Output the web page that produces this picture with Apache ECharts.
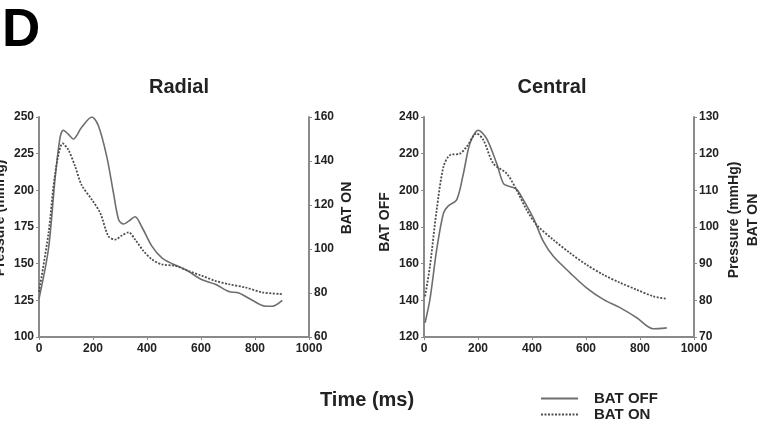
<!DOCTYPE html>
<html><head><meta charset="utf-8">
<script src="https://cdn.jsdelivr.net/npm/echarts@6/dist/echarts.min.js"></script>
<style>html,body{margin:0;padding:0;background:#fff}#c{width:769px;height:425px}</style>
</head><body><div id="c"></div>
<script>
// Radial panel
const radialOffTime = [0, 35, 60, 78, 90, 110, 127, 158, 196, 220, 251, 276, 295, 313, 332, 356, 381, 418, 455, 493, 542, 604, 653, 703, 740, 790, 839, 864, 901];
const radialOffValue = [126, 160, 209, 236, 241, 238, 235, 243, 250, 244, 223, 198, 180, 177, 179, 182, 175, 162, 154, 150, 146, 139, 136, 131, 130, 125, 121, 121, 125];
const radialOnTime = [0, 35, 60, 88, 109, 134, 158, 196, 227, 257, 282, 307, 332, 356, 387, 418, 455, 505, 554, 604, 653, 703, 765, 827, 901];
const radialOnValue = [80.5, 107, 134.4, 148, 145, 137.5, 129, 122.4, 116.3, 105.8, 104.3, 106.1, 107.6, 104.3, 99.1, 95.3, 93, 92.3, 90, 87.8, 85.5, 84, 82.5, 80.3, 79.5];
// Central panel
const centralOffTime = [4, 22, 47, 72, 90, 121, 146, 170, 201, 232, 269, 295, 320, 343, 368, 405, 442, 479, 541, 602, 664, 726, 788, 849, 899];
const centralOffValue = [127.8, 140.5, 167.6, 187.5, 191.5, 194.8, 209.2, 225.5, 232.8, 228.2, 214.7, 203.5, 202, 200.5, 194.8, 184.8, 172.1, 164, 155, 146.8, 140.5, 136, 130.5, 124.5, 125];
const centralOnTime = [4, 22, 47, 72, 96, 133, 158, 195, 220, 257, 306, 343, 380, 417, 479, 541, 602, 664, 726, 788, 849, 899];
const centralOnValue = [81.1, 89.3, 104.7, 116.4, 119.6, 120, 121.9, 125.5, 123.7, 117.3, 114.6, 110.1, 104.7, 100.6, 96.5, 92.9, 89.7, 87, 84.8, 82.9, 81.1, 80.4];
// Axis ticks
const timeTicks = {min: 0, max: 1000, interval: 200};
const radialLeftTicks = {min: 100, max: 250, interval: 25};
const radialRightTicks = {min: 60, max: 160, interval: 20};
const centralLeftTicks = {min: 120, max: 240, interval: 20};
const centralRightTicks = {min: 70, max: 130, interval: 10};
const panelTitles = ['Radial', 'Central'];
const seriesNames = ['BAT OFF', 'BAT ON'];

const zip = (t, v) => t.map((x, i) => [x, v[i]]);
const BOLD = "'Liberation Sans',Arial,sans-serif";
const labelStyle = {color: '#222', fontFamily: BOLD, fontWeight: 'bold', fontSize: 12, margin: 5, formatter: v => String(v)};
const axisCommon = {
  axisLine: {show: true, lineStyle: {color: '#8a8a8a', width: 2}},
  axisTick: {show: true, length: 3, lineStyle: {color: '#8a8a8a', width: 1}},
  splitLine: {show: false},
  nameLocation: 'middle'
};
const xAx = (gi) => Object.assign({}, axisCommon, {type: 'value', gridIndex: gi, position: 'bottom', axisLabel: Object.assign({}, labelStyle, {margin: 6})}, timeTicks);
const yAx = (gi, ticks, pos, name, gap, lift) => Object.assign({}, axisCommon, {
  type: 'value', gridIndex: gi, position: pos, name: name, nameGap: gap, nameRotate: 90,
  axisLabel: Object.assign({}, labelStyle, {margin: 5}),
  nameTextStyle: {color: '#222', fontFamily: BOLD, fontWeight: 'bold', fontSize: 14, lineHeight: 19, padding: [0, 0, 0, lift]}
}, ticks);

const solid = {color: '#6e6e6e', width: 1.6, type: 'solid'};
const dotted = {color: '#4e4e4e', width: 1.8, type: [2, 1.5]};

const option = {
  animation: false,
  backgroundColor: '#fff',
  title: [
    {text: 'D', left: -3, top: 0, textStyle: {fontFamily: BOLD, fontWeight: 'bold', fontSize: 53, color: '#000'}},
    {text: panelTitles[0], left: 174, top: 72, textAlign: 'center', textStyle: {fontFamily: BOLD, fontWeight: 'bold', fontSize: 20, color: '#222'}},
    {text: panelTitles[1], left: 547, top: 72, textAlign: 'center', textStyle: {fontFamily: BOLD, fontWeight: 'bold', fontSize: 20, color: '#222'}}
  ],
  graphic: [
    {type: 'text', left: 320, top: 390, style: {text: 'Time (ms)', fontFamily: BOLD, fontWeight: 'bold', fontSize: 20, fill: '#222'}}
  ],
  legend: {
    orient: 'vertical', left: 535, top: 386, height: 60, itemWidth: 37, itemHeight: 14, itemGap: 1,
    data: seriesNames,
    itemStyle: {opacity: 0, color: 'transparent', borderWidth: 0},
    textStyle: {fontFamily: BOLD, fontWeight: 'bold', fontSize: 15, color: '#222', lineHeight: 14, padding: [0, 0, 0, 11]}
  },
  grid: [
    {left: 39, right: 460, top: 117, bottom: 88, containLabel: false, outerBoundsMode: 'none'},
    {left: 424, right: 75, top: 117, bottom: 88, containLabel: false, outerBoundsMode: 'none'}
  ],
  xAxis: [xAx(0), xAx(1)],
  yAxis: [
    yAx(0, radialLeftTicks, 'left', 'Pressure (mmHg)', 18, 18),
    yAx(0, radialRightTicks, 'right', 'BAT ON', 22, 38),
    yAx(1, centralLeftTicks, 'left', 'BAT OFF', 25, 10),
    yAx(1, centralRightTicks, 'right', 'Pressure (mmHg)\nBAT ON', 31, 14)
  ],
  series: [
    {name: seriesNames[0], type: 'line', xAxisIndex: 0, yAxisIndex: 0, data: zip(radialOffTime, radialOffValue), smooth: 0.3, symbol: 'none', lineStyle: solid, itemStyle: {color: solid.color}},
    {name: seriesNames[1], type: 'line', xAxisIndex: 0, yAxisIndex: 1, data: zip(radialOnTime, radialOnValue), smooth: 0.3, symbol: 'none', lineStyle: dotted, itemStyle: {color: dotted.color}},
    {name: seriesNames[0], type: 'line', xAxisIndex: 1, yAxisIndex: 2, data: zip(centralOffTime, centralOffValue), smooth: 0.3, symbol: 'none', lineStyle: solid, itemStyle: {color: solid.color}},
    {name: seriesNames[1], type: 'line', xAxisIndex: 1, yAxisIndex: 3, data: zip(centralOnTime, centralOnValue), smooth: 0.3, symbol: 'none', lineStyle: dotted, itemStyle: {color: dotted.color}}
  ]
};
const chart = echarts.init(document.getElementById('c'), null, {renderer: 'canvas'});
chart.setOption(option);
</script></body></html>
